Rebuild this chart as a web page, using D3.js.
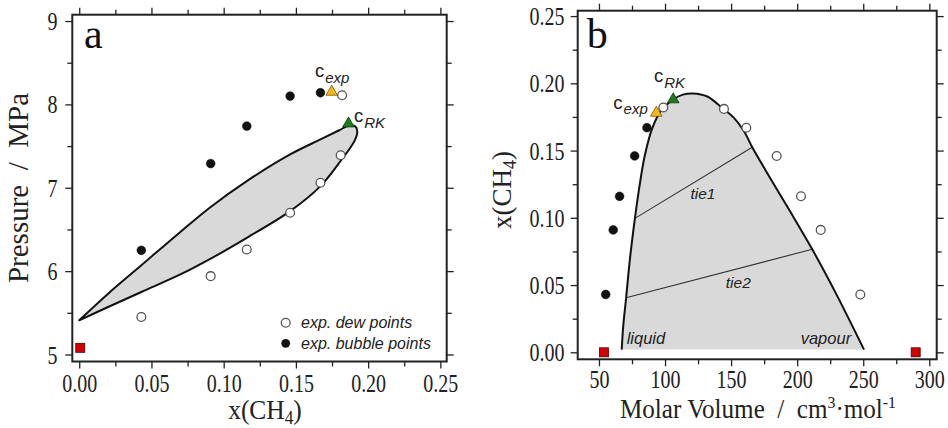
<!DOCTYPE html>
<html>
<head>
<meta charset="utf-8">
<script src="https://cdn.jsdelivr.net/npm/d3@7"></script>
<style>
  body { margin: 0; background: #fff; }
  svg { display: block; }
  .tick text { font-family: "Liberation Serif", serif; font-size: 25px; fill: #222; }
</style>
</head>
<body>
<script>
'use strict';

// ---- data ----
// experimental dew points: composition, pressure (panel a), molar volume (panel b)
var dewX = [0.043, 0.091, 0.116, 0.146, 0.167, 0.181, 0.182];
var dewP = [5.45, 5.94, 6.26, 6.70, 7.06, 7.39, 8.11];
var dewV = [247.8, 217.8, 202.9, 184.5, 161.5, 144.6, 98.7];

// experimental bubble points
var bubX = [0.043, 0.091, 0.116, 0.146, 0.167];
var bubP = [6.25, 7.29, 7.74, 8.10, 8.14];
var bubV = [55.1, 60.8, 65.6, 77.0, 86.3];

// critical points
var critExp = {x: 0.1748, p: 8.15, v: 93.4, xb: 0.178};
var critRK = {x: 0.1864, p: 7.77, v: 106.2, xb: 0.188};

// pure component points (red squares)
var pureA = [{x: 0.0007, p: 5.08}];
var pureB = [{v: 53.8, x: 0.0}, {v: 289.7, x: 0.0}];

// RK phase envelope in P-x (closed lens: upper branch out to the nose, lower branch back to the tip)
var lensX = [0, 0.02, 0.043, 0.07, 0.091, 0.116, 0.146, 0.167, 0.18, 0.1864, 0.1912, 0.1925, 0.1905, 0.1813, 0.167, 0.146, 0.116, 0.091, 0.07, 0.043, 0.02, 0];
var lensP = [5.41, 5.73, 6.07, 6.47, 6.77, 7.08, 7.40, 7.58, 7.69, 7.745, 7.735, 7.67, 7.56, 7.33, 7.02, 6.72, 6.40, 6.15, 5.96, 5.75, 5.57, 5.41];

// RK phase envelope in x-V (liquid branch up, vapour branch down)
var envV = [67.2, 68.4, 70.5, 73.5, 77.2, 80.9, 84.6, 90.3, 97.2, 106.2, 113.5, 121, 132, 143.5, 152, 160, 166, 176.6, 193.6, 211.4, 230.5, 250.6];
var envX = [0.002, 0.02, 0.040, 0.07, 0.0996, 0.125, 0.146, 0.1665, 0.180, 0.188, 0.1916, 0.1925, 0.1902, 0.1814, 0.1745, 0.164, 0.1525, 0.1345, 0.1065, 0.0766, 0.0416, 0.002];

// tie lines (liquid end, vapour end)
var tieNames = ["tie1", "tie2"];
var tieV = [[77.2, 166], [70.5, 211.4]];
var tieX = [[0.0996, 0.1525], [0.0406, 0.0766]];

// axis ticks
var ticksPA = [5, 6, 7, 8, 9];
var minorPA = [5.5, 6.5, 7.5, 8.5];
var ticksXA = [0, 0.05, 0.10, 0.15, 0.20, 0.25];
var minorXA = [0.025, 0.075, 0.125, 0.175, 0.225];
var ticksVB = [50, 100, 150, 200, 250, 300];
var minorVB = [75, 125, 175, 225, 275];
var ticksXB = [0, 0.05, 0.10, 0.15, 0.20, 0.25];
var minorXB = [0.025, 0.075, 0.125, 0.175, 0.225];

var svg = d3.select("body").append("svg")
  .attr("width", 948)
  .attr("height", 428);

// ---- scales ----
var xA = d3.scaleLinear().domain([-0.0048, 0.2544]).range([72.3, 446.7]);
var yA = d3.scaleLinear().domain([4.916, 9.076]).range([361.5, 14.7]);
var xB = d3.scaleLinear().domain([33.9, 305.6]).range([577.7, 936.7]);
var yB = d3.scaleLinear().domain([-0.0052, 0.254]).range([359.3, 10.7]);

var sans = "'Liberation Sans', Arial, sans-serif";
var serif = "'Liberation Serif', serif";

// draw the frame and the four tick rows of one panel
function drawAxes(x, y, xt, xm, yt, ym, xfmt, yfmt, xLabelY, yLabelX) {
  var x0 = x.range()[0], x1 = x.range()[1];
  var y0 = y.range()[0], y1 = y.range()[1];

  function tickRow(axisFn, scale, vals, size, pos, fmt) {
    var g = svg.append("g")
      .attr("transform", pos)
      .call(axisFn(scale).tickValues(vals).tickSize(size).tickFormat(fmt || ""));
    g.select(".domain").remove();
    g.selectAll("line").attr("stroke", "#222").attr("stroke-width", 1.3);
    return g;
  }

  // bottom
  var gb = tickRow(d3.axisBottom, x, xt, 7, "translate(0," + y0 + ")", d3.format(xfmt));
  gb.selectAll("text").attr("y", xLabelY).attr("dy", 0).attr("transform", "scale(0.8,1)");
  tickRow(d3.axisBottom, x, xm, 5, "translate(0," + y0 + ")");
  // top
  tickRow(d3.axisTop, x, xt, 7, "translate(0," + y1 + ")");
  tickRow(d3.axisTop, x, xm, 5, "translate(0," + y1 + ")");
  // left
  var gl = tickRow(d3.axisLeft, y, yt, 7, "translate(" + x0 + ",0)", yfmt);
  gl.selectAll("text").attr("x", yLabelX).attr("dy", "0.34em").attr("transform", "scale(0.8,1)");
  tickRow(d3.axisLeft, y, ym, 5, "translate(" + x0 + ",0)");
  // right
  tickRow(d3.axisRight, y, yt, 7, "translate(" + x1 + ",0)");
  tickRow(d3.axisRight, y, ym, 5, "translate(" + x1 + ",0)");

  svg.append("rect")
    .attr("x", x0).attr("y", y1)
    .attr("width", x1 - x0).attr("height", y0 - y1)
    .attr("fill", "none")
    .attr("stroke", "#222")
    .attr("stroke-width", 2);
}

// c with a subscript
function critLabel(px, py, sub) {
  var t = svg.append("text")
    .attr("x", px).attr("y", py)
    .attr("font-family", sans)
    .attr("fill", "#222");
  t.append("tspan").attr("font-size", "18.5px").text("c");
  t.append("tspan").attr("font-size", "15px").attr("font-style", "italic")
    .attr("dx", 1).attr("dy", 5.5).text(sub);
}

function triangle(px, py, fill, stroke) {
  svg.append("path")
    .attr("d", d3.symbol().type(d3.symbolTriangle).size(58)())
    .attr("transform", "translate(" + px + "," + py + ")")
    .attr("fill", fill)
    .attr("stroke", stroke)
    .attr("stroke-width", 0.8);
}

function square(px, py) {
  svg.append("rect")
    .attr("x", px - 4.5).attr("y", py - 4.5)
    .attr("width", 9).attr("height", 9)
    .attr("fill", "#d40000")
    .attr("stroke", "#4a0000")
    .attr("stroke-width", 0.8);
}

function dots(xs, ys, open) {
  svg.append("g").selectAll("circle")
    .data(xs)
    .enter()
    .append("circle")
      .attr("cx", function(d) { return d; })
      .attr("cy", function(d, i) { return ys[i]; })
      .attr("r", 4.4)
      .attr("fill", open ? "#fff" : "#111")
      .attr("stroke", open ? "#555" : "#111")
      .attr("stroke-width", open ? 1.3 : 0.5);
}

/****** Panel a : P-x ******/
drawAxes(xA, yA, ticksXA, minorXA, ticksPA, minorPA, ".2f", d3.format("d"), 31, -18.5);

var lensLine = d3.line()
  .x(function(d, i) { return xA(lensX[i]); })
  .y(function(d, i) { return yA(lensP[i]); })
  .curve(d3.curveCatmullRom.alpha(0.5));

svg.append("path")
  .attr("d", lensLine(lensX) + "Z")
  .attr("fill", "#d9d9d9")
  .attr("stroke", "#111")
  .attr("stroke-width", 2)
  .attr("stroke-linejoin", "round");

dots(dewX.map(function(d) { return xA(d); }), dewP.map(function(d) { return yA(d); }), true);
dots(bubX.map(function(d) { return xA(d); }), bubP.map(function(d) { return yA(d); }), false);

triangle(xA(critExp.x), yA(critExp.p), "#f4b81c", "#7a5800");
triangle(xA(critRK.x), yA(critRK.p), "#1f7a1f", "#0a3a0a");
pureA.forEach(function(d) { square(xA(d.x), yA(d.p)); });

critLabel(315, 77, "exp");
critLabel(354, 122, "RK");

// legend
svg.append("circle").attr("cx", 285.7).attr("cy", 322.7).attr("r", 4.4)
  .attr("fill", "#fff").attr("stroke", "#555").attr("stroke-width", 1.3);
svg.append("circle").attr("cx", 285.7).attr("cy", 343.3).attr("r", 4.4)
  .attr("fill", "#111");
svg.append("text").attr("x", 301).attr("y", 328)
  .attr("font-family", sans).attr("font-size", "16px").attr("font-style", "italic")
  .attr("fill", "#222").text("exp. dew points");
svg.append("text").attr("x", 301).attr("y", 348.5)
  .attr("font-family", sans).attr("font-size", "16px").attr("font-style", "italic")
  .attr("fill", "#222").text("exp. bubble points");

// panel letter + titles
svg.append("text").attr("x", 84).attr("y", 48)
  .attr("font-family", serif).attr("font-size", "42px").attr("fill", "#111").text("a");

svg.append("text")
  .attr("transform", "translate(28,188) rotate(-90)")
  .attr("text-anchor", "middle")
  .attr("font-family", serif).attr("font-size", "29px").attr("fill", "#222")
  .attr("xml:space", "preserve")
  .text("Pressure  /  MPa");

var xtA = svg.append("text")
  .attr("transform", "translate(265,419) scale(0.96,1)")
  .attr("text-anchor", "middle")
  .attr("font-family", serif).attr("font-size", "26.5px").attr("fill", "#222");
xtA.append("tspan").text("x(CH");
xtA.append("tspan").attr("font-size", "18px").attr("dy", 5).text("4");
xtA.append("tspan").attr("dy", -5).text(")");

/****** Panel b : x-V ******/
drawAxes(xB, yB, ticksVB, minorVB, ticksXB, minorXB, "d", d3.format(".2f"), 29, -16.5);

var envLine = d3.line()
  .x(function(d, i) { return xB(envV[i]); })
  .y(function(d, i) { return yB(envX[i]); })
  .curve(d3.curveCatmullRom.alpha(0.5));

svg.append("path")
  .attr("d", envLine(envV) + "Z")
  .attr("fill", "#d9d9d9")
  .attr("stroke", "none");

// tie lines
tieV.forEach(function(v, i) {
  svg.append("line")
    .attr("x1", xB(v[0])).attr("y1", yB(tieX[i][0]))
    .attr("x2", xB(v[1])).attr("y2", yB(tieX[i][1]))
    .attr("stroke", "#333")
    .attr("stroke-width", 1.1);
});

svg.append("path")
  .attr("d", envLine(envV))
  .attr("fill", "none")
  .attr("stroke", "#111")
  .attr("stroke-width", 2);

dots(dewV.map(function(d) { return xB(d); }), dewX.map(function(d) { return yB(d); }), true);
dots(bubV.map(function(d) { return xB(d); }), bubX.map(function(d) { return yB(d); }), false);

triangle(xB(critExp.v), yB(critExp.xb), "#f4b81c", "#7a5800");
triangle(xB(critRK.v), yB(critRK.xb), "#1f7a1f", "#0a3a0a");
pureB.forEach(function(d) { square(xB(d.v), yB(d.x)); });

critLabel(613.3, 108.5, "exp");
critLabel(654, 82, "RK");

var italicLabel = function(px, py, s, txt, anchor) {
  svg.append("text").attr("x", px).attr("y", py)
    .attr("text-anchor", anchor || "start")
    .attr("font-family", sans).attr("font-size", s).attr("font-style", "italic")
    .attr("fill", "#222").text(txt);
};
italicLabel(703, 199, "15.5px", tieNames[0], "middle");
italicLabel(738.3, 288.3, "15.5px", tieNames[1], "middle");
italicLabel(626.7, 344, "16.5px", "liquid");
italicLabel(800.7, 344, "16.5px", "vapour");

svg.append("text").attr("x", 586.7).attr("y", 47.7)
  .attr("font-family", serif).attr("font-size", "42px").attr("fill", "#111").text("b");

var ytB = svg.append("text")
  .attr("transform", "translate(511,190) rotate(-90)")
  .attr("text-anchor", "middle")
  .attr("font-family", serif).attr("font-size", "27px").attr("fill", "#222");
ytB.append("tspan").text("x(CH");
ytB.append("tspan").attr("font-size", "18px").attr("dy", 5).text("4");
ytB.append("tspan").attr("dy", -5).text(")");

var xtB = svg.append("text")
  .attr("transform", "translate(758,418) scale(0.93,1)")
  .attr("text-anchor", "middle")
  .attr("font-family", serif).attr("font-size", "27px").attr("fill", "#222")
  .attr("xml:space", "preserve");
xtB.append("tspan").text("Molar Volume  /  cm");
xtB.append("tspan").attr("font-size", "17px").attr("dy", -10).text("3");
xtB.append("tspan").attr("dy", 10).text("\u00b7mol");
xtB.append("tspan").attr("font-size", "17px").attr("dy", -10).text("-1");
</script>
</body>
</html>
